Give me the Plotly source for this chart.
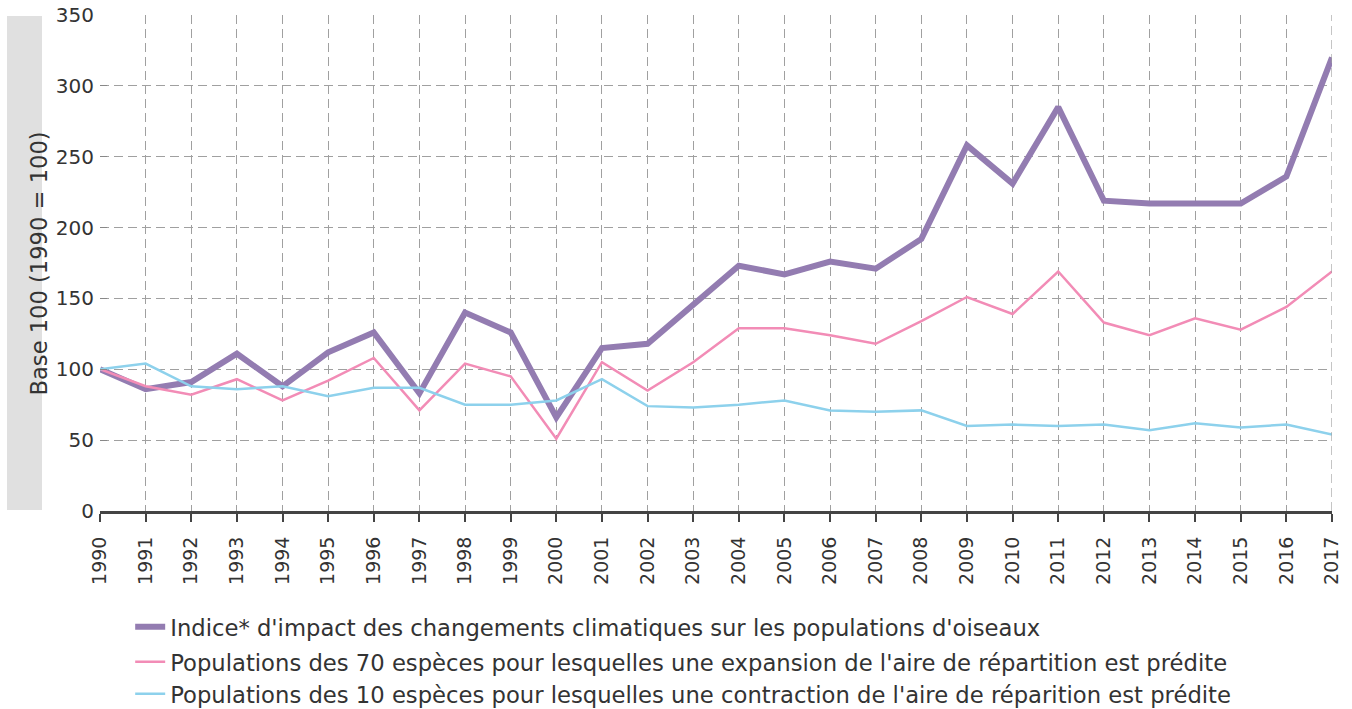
import plotly.graph_objects as go

years = list(range(1990, 2018))
indice = [100, 86, 91, 111, 88, 112, 126, 83, 140, 126, 66, 115, 118, 145, 173, 167, 176, 171, 192,
          258, 231, 285, 219, 217, 217, 217, 236, 320]
expansion = [100, 88, 82, 93, 78, 92, 108, 71, 104, 95, 51, 105, 85, 105, 129, 129, 124, 118, 134,
             151, 139, 169, 133, 124, 136, 128, 144, 169]
contraction = [100, 104, 88, 86, 88, 81, 87, 87, 75, 75, 78, 93, 74, 73, 75, 78, 71, 70, 71,
               60, 61, 60, 61, 57, 62, 59, 61, 54]

names = [
    "Indice* d'impact des changements climatiques sur les populations d'oiseaux",
    "Populations des 70 espèces pour lesquelles une expansion de l'aire de répartition est prédite",
    "Populations des 10 espèces pour lesquelles une contraction de l'aire de réparition est prédite",
]
colors = ["#937cb1", "#f28cb6", "#8dd1ec"]
widths = [6, 2.5, 2.5]
series = [indice, expansion, contraction]
legend_ids = ["legend", "legend2", "legend3"]

fig = go.Figure()
for s, n, c, w, lg in zip(series, names, colors, widths, legend_ids):
    fig.add_trace(go.Scatter(x=years, y=s, name=n, mode="lines",
                             line=dict(color=c, width=w), legend=lg))

font_family = "DejaVu Sans, sans-serif"
grid = "#a0a0a0"
gdash = "9px,5px"

def leg(yc):
    return dict(x=0.0245, y=yc, xanchor="left", yanchor="middle",
                font=dict(size=22.7, color="#333"), itemwidth=30,
                bgcolor="rgba(0,0,0,0)", borderwidth=0)

fig.update_layout(
    width=1352, height=709,
    margin=dict(l=100, r=20, t=15, b=198, autoexpand=False),
    plot_bgcolor="white", paper_bgcolor="white",
    font=dict(family=font_family, size=20, color="#333"),
    showlegend=True,
    legend=leg(-0.2339),
    legend2=leg(-0.3044),
    legend3=leg(-0.369),
    xaxis=dict(range=[1990, 2017], tickmode="array", tickvals=years,
               ticktext=[str(y) for y in years], tickangle=-90,
               showgrid=True, gridcolor=grid, griddash=gdash, gridwidth=1.2,
               showline=True, linecolor="#444", linewidth=3,
               ticks="outside", ticklen=8, tickcolor="#444", tickwidth=1.5,
               ticklabelstandoff=7,
               zeroline=False, tickfont=dict(size=19, color="#333")),
    yaxis=dict(range=[0, 350], tickvals=[0, 50, 100, 150, 200, 250, 300, 350],
               showgrid=True, gridcolor=grid, griddash=gdash, gridwidth=1.2,
               zeroline=False, showline=False, ticklabeloverflow="allow",
               ticks="inside", ticklen=7, tickcolor="#888",
               ticklabelstandoff=5,
               tickfont=dict(size=20, color="#333")),
)

# right border at 2017 dashed (grid at range end)
fig.add_shape(type="line", xref="x", yref="paper", x0=2017, x1=2017, y0=0, y1=1,
              line=dict(color=grid, width=1.2, dash=gdash))

# grey box behind y-axis title
fig.add_shape(type="rect", xref="paper", yref="paper", x0=-0.0755, x1=-0.0471, y0=0.002, y1=0.998,
              fillcolor="#e0e0e0", line=dict(width=0), layer="below")
fig.add_annotation(text="Base 100 (1990 = 100)", xref="paper", yref="paper",
                   x=-0.0613, y=0.5, textangle=-90, showarrow=False,
                   font=dict(size=22.6, color="#333", family=font_family))

fig.write_html("out.html", config={"displayModeBar": False},
               post_script="document.body.style.margin='0';")
